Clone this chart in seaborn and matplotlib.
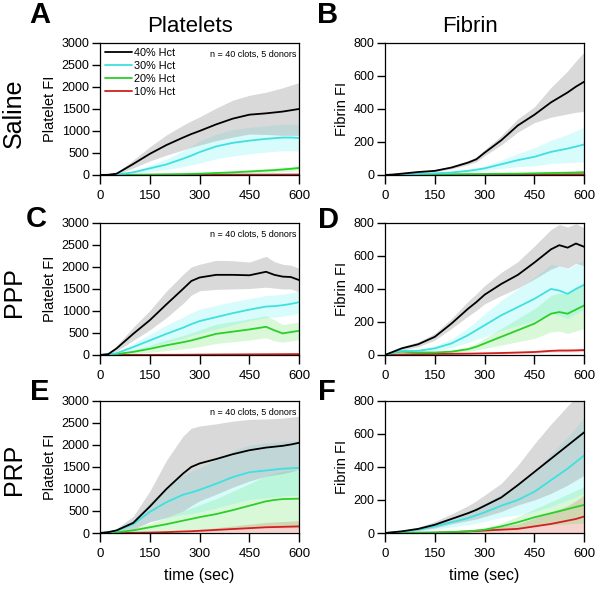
"""
Platelet and fibrin accumulation vs. time for saline / PPP / PRP dilutions,
one line per hematocrit (mean +/- SD bands).
"""

import numpy as np
import pandas as pd
import matplotlib
matplotlib.use('Agg')
import matplotlib.pyplot as plt
import seaborn as sns

# -------------
# data
# -------------
time_s = [0, 25, 50, 100, 150, 200, 250, 275, 300, 350, 400, 450, 500, 525, 550, 575, 600]
hct_labels = ['40% Hct', '30% Hct', '20% Hct', '10% Hct']

# Saline - platelets
sal_plt_40 = [0, 5, 30, 250, 480, 680, 850, 930, 1000, 1150, 1280, 1370, 1400, 1420, 1440, 1470, 1500]
sal_plt_40_sd = [0, 5, 20, 90, 160, 230, 280, 300, 320, 370, 420, 440, 480, 510, 540, 570, 600]
sal_plt_30 = [0, 2, 10, 60, 150, 240, 370, 440, 520, 650, 730, 780, 820, 835, 850, 850, 840]
sal_plt_30_sd = [0, 2, 8, 30, 70, 120, 180, 210, 250, 280, 300, 300, 300, 300, 300, 300, 300]
sal_plt_20 = [0, 0, 2, 5, 10, 15, 20, 25, 30, 45, 60, 80, 100, 110, 125, 140, 160]
sal_plt_20_sd = [0, 0, 1, 3, 5, 8, 10, 12, 15, 20, 25, 30, 40, 45, 50, 55, 60]
sal_plt_10 = [0, 0, 1, 2, 3, 4, 5, 5, 6, 6, 7, 8, 8, 9, 9, 10, 10]
sal_plt_10_sd = [0, 0, 1, 1, 2, 2, 3, 3, 3, 3, 4, 4, 4, 5, 5, 5, 5]

# Saline - fibrin
sal_fib_40 = [0, 3, 8, 18, 25, 45, 75, 95, 135, 210, 300, 365, 440, 470, 500, 535, 565]
sal_fib_40_sd = [0, 1, 2, 4, 6, 8, 12, 15, 18, 28, 40, 48, 90, 110, 130, 155, 180]
sal_fib_30 = [0, 1, 3, 6, 10, 15, 25, 32, 40, 65, 90, 110, 140, 150, 160, 172, 185]
sal_fib_30_sd = [0, 1, 2, 3, 5, 7, 10, 12, 15, 25, 40, 55, 70, 78, 85, 95, 105]
sal_fib_20 = [0, 0, 1, 2, 3, 4, 5, 5, 6, 7, 8, 10, 12, 13, 14, 15, 17]
sal_fib_20_sd = [0, 0, 1, 1, 1, 2, 2, 2, 3, 3, 4, 5, 5, 6, 6, 7, 7]
sal_fib_10 = [0, 0, 0, 1, 1, 1, 2, 2, 2, 2, 3, 3, 3, 3, 4, 4, 4]
sal_fib_10_sd = [0, 0, 0, 1, 1, 1, 1, 1, 1, 1, 1, 2, 2, 2, 2, 2, 2]

# PPP - platelets
ppp_plt_40 = [0, 20, 150, 480, 790, 1150, 1500, 1680, 1760, 1820, 1820, 1810, 1890, 1820, 1780, 1770, 1700]
ppp_plt_40_sd = [0, 10, 60, 150, 220, 300, 330, 320, 300, 330, 320, 300, 350, 300, 280, 270, 270]
ppp_plt_30 = [0, 10, 40, 180, 330, 480, 620, 700, 770, 860, 950, 1030, 1100, 1110, 1130, 1160, 1200]
ppp_plt_30_sd = [0, 5, 20, 80, 140, 200, 240, 260, 270, 270, 260, 250, 250, 250, 250, 250, 250]
ppp_plt_20 = [0, 5, 20, 70, 140, 220, 290, 330, 380, 480, 530, 580, 640, 560, 490, 520, 550]
ppp_plt_20_sd = [0, 3, 15, 40, 80, 120, 150, 170, 190, 220, 230, 240, 250, 240, 200, 200, 200]
ppp_plt_10 = [0, 0, 1, 2, 3, 4, 5, 6, 8, 10, 12, 14, 16, 17, 18, 19, 20]
ppp_plt_10_sd = [0, 0, 1, 2, 2, 3, 3, 4, 4, 5, 5, 6, 6, 6, 7, 7, 7]

# PPP - fibrin
ppp_fib_40 = [0, 20, 40, 65, 110, 190, 280, 320, 365, 430, 485, 560, 640, 665, 650, 675, 655]
ppp_fib_40_sd = [0, 5, 10, 15, 20, 30, 45, 50, 55, 70, 80, 100, 120, 125, 125, 120, 115]
ppp_fib_30 = [0, 15, 25, 25, 40, 70, 120, 150, 180, 240, 290, 340, 400, 390, 370, 400, 425]
ppp_fib_30_sd = [0, 5, 8, 10, 15, 25, 45, 55, 70, 90, 110, 130, 150, 150, 150, 150, 150]
ppp_fib_20 = [0, 15, 20, 15, 15, 20, 35, 50, 70, 110, 150, 190, 250, 260, 250, 275, 300]
ppp_fib_20_sd = [0, 5, 5, 5, 5, 8, 15, 20, 30, 50, 70, 90, 110, 115, 120, 130, 140]
ppp_fib_10 = [0, 2, 3, 5, 6, 7, 8, 9, 10, 12, 15, 18, 25, 27, 27, 28, 30]
ppp_fib_10_sd = [0, 1, 1, 2, 2, 2, 3, 3, 3, 4, 5, 6, 7, 8, 8, 8, 9]

# PRP - platelets
prp_plt_40 = [0, 20, 60, 230, 600, 1000, 1350, 1500, 1580, 1680, 1790, 1880, 1940, 1960, 1980, 2010, 2050]
prp_plt_40_sd = [0, 10, 40, 150, 350, 650, 850, 880, 850, 800, 750, 700, 650, 640, 630, 620, 600]
prp_plt_30 = [0, 15, 50, 200, 480, 700, 870, 920, 980, 1120, 1270, 1380, 1420, 1440, 1460, 1470, 1480]
prp_plt_30_sd = [0, 10, 30, 100, 220, 350, 450, 480, 500, 550, 600, 620, 620, 620, 620, 620, 620]
prp_plt_20 = [0, 5, 15, 60, 130, 200, 280, 320, 360, 430, 520, 620, 720, 750, 770, 775, 780]
prp_plt_20_sd = [0, 3, 10, 40, 90, 150, 220, 250, 280, 350, 430, 500, 580, 610, 630, 650, 660]
prp_plt_10 = [0, 0, 2, 5, 10, 20, 35, 40, 50, 70, 90, 110, 130, 135, 140, 145, 150]
prp_plt_10_sd = [0, 0, 1, 3, 5, 10, 20, 25, 30, 50, 70, 90, 110, 115, 120, 125, 130]

# PRP - fibrin
prp_fib_40 = [0, 5, 10, 25, 50, 85, 120, 140, 165, 215, 290, 370, 450, 490, 530, 570, 610]
prp_fib_40_sd = [0, 2, 5, 10, 20, 30, 45, 55, 65, 85, 120, 170, 210, 225, 240, 250, 260]
prp_fib_30 = [0, 4, 8, 20, 40, 65, 90, 108, 125, 165, 200, 250, 320, 355, 390, 430, 470]
prp_fib_30_sd = [0, 2, 4, 10, 18, 28, 40, 48, 55, 70, 90, 120, 160, 175, 190, 210, 230]
prp_fib_20 = [0, 0, 1, 2, 3, 6, 10, 15, 20, 40, 65, 95, 120, 132, 145, 158, 170]
prp_fib_20_sd = [0, 0, 1, 1, 2, 3, 5, 8, 10, 20, 35, 50, 70, 80, 90, 100, 110]
prp_fib_10 = [0, 0, 0, 1, 2, 5, 10, 12, 15, 20, 25, 40, 55, 65, 75, 85, 100]
prp_fib_10_sd = [0, 0, 0, 1, 2, 4, 8, 10, 12, 20, 30, 50, 70, 80, 90, 110, 130]

line_colors = {'40% Hct': '#000000', '30% Hct': '#3ee0e0',
               '20% Hct': '#2ad02a', '10% Hct': '#d02020'}
band_colors = {'40% Hct': ('#a0a0a0', 0.40), '30% Hct': ('#40f0f0', 0.20),
               '20% Hct': ('#40e040', 0.20), '10% Hct': ('#e05040', 0.25)}


def make_df(means, sds):
    rows = []
    for label, m, s in zip(hct_labels, means, sds):
        for t, mv, sv in zip(time_s, m, s):
            rows.append({'time': t, 'hct': label, 'mean': mv, 'sd': sv})
    return pd.DataFrame(rows)


panels = [
    ('A', 'Platelet FI', 3000, make_df(
        [sal_plt_40, sal_plt_30, sal_plt_20, sal_plt_10],
        [sal_plt_40_sd, sal_plt_30_sd, sal_plt_20_sd, sal_plt_10_sd])),
    ('B', 'Fibrin FI', 800, make_df(
        [sal_fib_40, sal_fib_30, sal_fib_20, sal_fib_10],
        [sal_fib_40_sd, sal_fib_30_sd, sal_fib_20_sd, sal_fib_10_sd])),
    ('C', 'Platelet FI', 3000, make_df(
        [ppp_plt_40, ppp_plt_30, ppp_plt_20, ppp_plt_10],
        [ppp_plt_40_sd, ppp_plt_30_sd, ppp_plt_20_sd, ppp_plt_10_sd])),
    ('D', 'Fibrin FI', 800, make_df(
        [ppp_fib_40, ppp_fib_30, ppp_fib_20, ppp_fib_10],
        [ppp_fib_40_sd, ppp_fib_30_sd, ppp_fib_20_sd, ppp_fib_10_sd])),
    ('E', 'Platelet FI', 3000, make_df(
        [prp_plt_40, prp_plt_30, prp_plt_20, prp_plt_10],
        [prp_plt_40_sd, prp_plt_30_sd, prp_plt_20_sd, prp_plt_10_sd])),
    ('F', 'Fibrin FI', 800, make_df(
        [prp_fib_40, prp_fib_30, prp_fib_20, prp_fib_10],
        [prp_fib_40_sd, prp_fib_30_sd, prp_fib_20_sd, prp_fib_10_sd])),
]

# -------------
# plot
# -------------
sns.set_style('ticks', {'axes.edgecolor': 'black', 'text.color': 'black',
                        'axes.labelcolor': 'black', 'xtick.color': 'black',
                        'ytick.color': 'black'})
plt.rcParams['font.family'] = ['Liberation Sans', 'DejaVu Sans']

fig = plt.figure(figsize=(6.0, 5.95), dpi=100)

# axes boxes in figure fractions (left, bottom, width, height)
lefts = [0.1667, 0.6417]
bottoms = [0.7059, 0.4034, 0.1042]
width, height = 0.332, 0.222

letter_xy = {'A': (40, 15), 'B': (328, 15), 'C': (36, 219),
             'D': (329, 220), 'E': (40, 392), 'F': (327, 392)}

for i, (letter, ylab, ymax, df) in enumerate(panels):
    row, col = divmod(i, 2)
    ax = fig.add_axes([lefts[col], bottoms[row], width, height])

    for label in hct_labels[::-1]:
        d = df[df['hct'] == label]
        c, a = band_colors[label]
        ax.fill_between(d['time'], (d['mean'] - d['sd']).clip(lower=0),
                        d['mean'] + d['sd'], color=c, alpha=a, lw=0)

    sns.lineplot(data=df, x='time', y='mean', hue='hct',
                 hue_order=hct_labels[::-1], palette=line_colors,
                 lw=1.3, ax=ax, legend=False, errorbar=None)

    ax.set_xlim(0, 600)
    ax.set_ylim(0, ymax)
    ax.set_xticks([0, 150, 300, 450, 600])
    ax.set_yticks(np.linspace(0, ymax, 7 if ymax == 3000 else 5))
    ax.tick_params(axis='x', length=6.5, width=1, pad=4, labelsize=9.5)
    ax.tick_params(axis='y', length=5.5, width=1, pad=2, labelsize=9)
    for sp in ax.spines.values():
        sp.set_linewidth(0.9)
        sp.set_color('black')
    ax.set_ylabel(ylab, fontsize=10.5, labelpad=3)
    if row == 2:
        ax.set_xlabel('time (sec)', fontsize=11.5, labelpad=6)
    else:
        ax.set_xlabel('')

    if col == 0:
        ax.text(0.985, 0.91, 'n = 40 clots, 5 donors', transform=ax.transAxes,
                ha='right', va='center', fontsize=6.5)

    if letter == 'A':
        handles = [plt.Line2D([], [], color=line_colors[l], lw=1.3)
                   for l in hct_labels]
        ax.legend(handles, hct_labels, loc='upper left',
                  bbox_to_anchor=(0.025, 0.965), frameon=False, fontsize=7.8,
                  handlelength=2.5, handletextpad=0.2, labelspacing=0.28,
                  borderpad=0, borderaxespad=0)

    lx, ly = letter_xy[letter]
    fig.text(lx / 600, 1 - ly / 595, letter, ha='center', va='center',
             fontsize=21, fontweight='bold')

# column titles and row labels
fig.text(190 / 600, 1 - 27 / 595, 'Platelets', ha='center', va='center', fontsize=16)
fig.text(470 / 600, 1 - 26 / 595, 'Fibrin', ha='center', va='center', fontsize=16)
for name, y in [('Saline', 113), ('PPP', 292), ('PRP', 469)]:
    fig.text(14 / 600, 1 - y / 595, name, ha='center', va='center',
             rotation=90, fontsize=18)

plt.savefig('out.png', dpi=100)
